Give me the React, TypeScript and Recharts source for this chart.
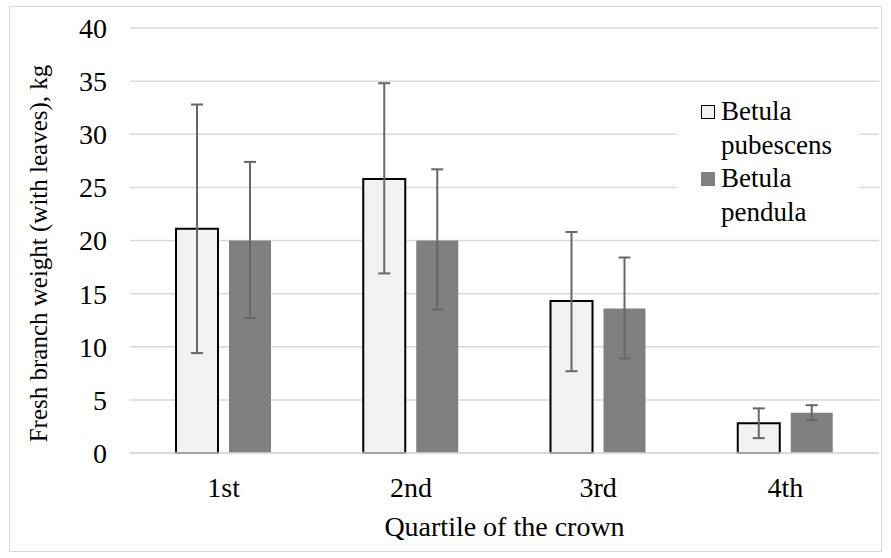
import { Bar, BarChart, CartesianGrid, ErrorBar, XAxis, YAxis } from "recharts";

// values
const quartiles = ["1st", "2nd", "3rd", "4th"];
const pubescens = [21.1, 25.8, 14.3, 2.8];
const pubescensUpper = [32.8, 34.8, 20.8, 4.2];
const pubescensLower = [9.4, 16.9, 7.7, 1.4];
const pendula = [20.0, 20.0, 13.6, 3.8];
const pendulaUpper = [27.4, 26.7, 18.4, 4.5];
const pendulaLower = [12.7, 13.5, 8.9, 3.1];
const yTicks = [0, 5, 10, 15, 20, 25, 30, 35, 40];

const FONT = '"Liberation Serif", "Times New Roman", serif';
const PUB_FILL = "#f2f2f2";
const PEN_FILL = "#808080";
const ERR_COLOR = "#666666";

// error bar deltas [down, up] for Recharts
const data = quartiles.map((q, i) => ({
    quartile: q,
    pubescens: pubescens[i],
    pubErr: [pubescens[i] - pubescensLower[i], pubescensUpper[i] - pubescens[i]],
    pendula: pendula[i],
    penErr: [pendula[i] - pendulaLower[i], pendulaUpper[i] - pendula[i]],
}));

const legendItems = [
    { label: "Betula pubescens", fill: PUB_FILL, border: "1.5px solid #000" },
    { label: "Betula pendula", fill: PEN_FILL, border: "none" },
];

// rotated y title, a bit below the plot's middle like the original
const YTitle = ({ viewBox }: any) => {
    const x = viewBox.x + 28;
    const y = viewBox.y + viewBox.height / 2 + 13;
    return (
        <text
            x={x}
            y={y}
            transform={`rotate(-90, ${x}, ${y})`}
            textAnchor="middle"
            dominantBaseline="central"
            fontSize={25}
            fontFamily={FONT}
            fill="#000"
        >
            Fresh branch weight (with leaves), kg
        </text>
    );
};

export default function App() {
    return (
        <div
            style={{
                position: "absolute",
                left: 9,
                top: 6,
                width: 871,
                height: 544,
                border: "1px solid #d9d9d9",
                background: "#fff",
                fontFamily: FONT,
            }}
        >
            <BarChart
                width={871}
                height={544}
                data={data}
                margin={{ top: 21, right: 2, bottom: 0, left: 0 }}
                barCategoryGap={46}
                barGap={11}
            >
                <CartesianGrid vertical={false} stroke="#d9d9d9" strokeWidth={1.5} />
                <XAxis
                    dataKey="quartile"
                    height={98}
                    tickLine={false}
                    tickSize={0}
                    tickMargin={24}
                    axisLine={{ stroke: "#d9d9d9", strokeWidth: 1.5 }}
                    tick={{ fill: "#000", fontSize: 28, fontFamily: FONT }}
                    label={{
                        value: "Quartile of the crown",
                        position: "insideBottom",
                        offset: 15,
                        fill: "#000",
                        fontSize: 28,
                        fontFamily: FONT,
                    }}
                />
                <YAxis
                    width={120}
                    domain={[0, 40]}
                    ticks={yTicks}
                    interval={0}
                    axisLine={false}
                    tickLine={false}
                    tickSize={0}
                    tickMargin={23}
                    tick={{ fill: "#000", fontSize: 28, fontFamily: FONT }}
                    label={<YTitle />}
                />
                <Bar dataKey="pubescens" fill={PUB_FILL} stroke="#000" strokeWidth={2} isAnimationActive={false}>
                    <ErrorBar dataKey="pubErr" width={6} stroke={ERR_COLOR} strokeWidth={2} isAnimationActive={false} />
                </Bar>
                <Bar dataKey="pendula" fill={PEN_FILL} isAnimationActive={false}>
                    <ErrorBar dataKey="penErr" width={6} stroke={ERR_COLOR} strokeWidth={2} isAnimationActive={false} />
                </Bar>
            </BarChart>

            {/* legend sits inside the plot, top right */}
            <div
                style={{
                    position: "absolute",
                    left: 667,
                    top: 83,
                    width: 182,
                    height: 148,
                    background: "#fff",
                    paddingTop: 5,
                    boxSizing: "border-box",
                }}
            >
                {legendItems.map((item) => (
                    <div key={item.label} style={{ display: "flex", alignItems: "flex-start", paddingLeft: 24 }}>
                        <div
                            style={{
                                width: 14,
                                height: 14,
                                marginTop: 10,
                                marginRight: 6,
                                background: item.fill,
                                border: item.border,
                                boxSizing: "border-box",
                                flexShrink: 0,
                            }}
                        />
                        <div style={{ width: 130, fontSize: 27, lineHeight: "33.5px", color: "#000" }}>{item.label}</div>
                    </div>
                ))}
            </div>
        </div>
    );
}
